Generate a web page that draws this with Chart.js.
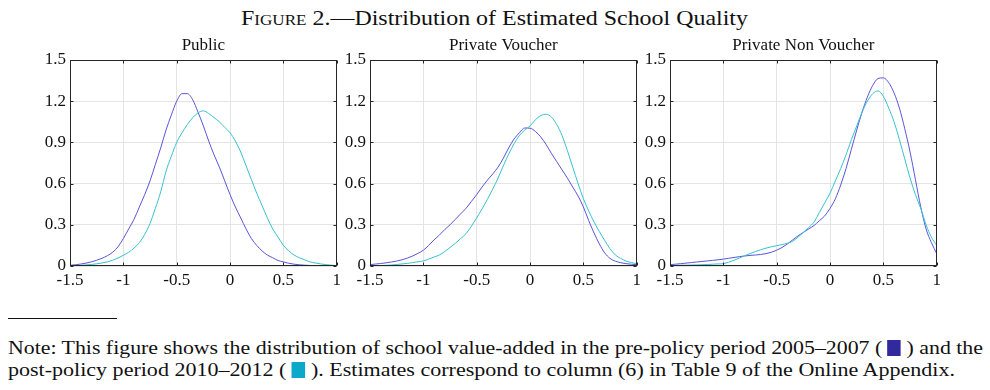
<!DOCTYPE html>
<html>
<head>
<meta charset="utf-8">
<script src="https://cdn.jsdelivr.net/npm/chart.js@4.4.0/dist/chart.umd.min.js"></script>
<style>
body{margin:0;background:#fff;width:990px;height:390px;position:relative;overflow:hidden;font-family:"Liberation Serif",serif;color:#111}
#title{position:absolute;top:4px;left:241px;font-size:21px;line-height:28px;white-space:nowrap;transform-origin:0 0}
.panel{position:absolute;top:32px}
#rule{position:absolute;left:8px;top:318px;width:109px;border-top:1px solid #111}
.note{position:absolute;left:8px;font-size:19.5px;line-height:22px;white-space:nowrap;transform-origin:0 0}
.sq{display:inline-block;width:12px;height:16px;vertical-align:-2px}
</style>
</head>
<body>
<div id="title"><span style="font-variant:small-caps">Figure</span> 2.—Distribution of Estimated School Quality</div>
<canvas id="c1" class="panel" width="345" height="260" style="left:0px"></canvas>
<canvas id="c2" class="panel" width="345" height="260" style="left:300px"></canvas>
<canvas id="c3" class="panel" width="345" height="260" style="left:600px"></canvas>
<div id="rule"></div>
<div id="note1" class="note" style="top:337px">Note: This figure shows the distribution of school value-added in the pre-policy period 2005–2007 ( <span class="sq" style="background:#33299e"></span> ) and the</div>
<div id="note2" class="note" style="top:359px">post-policy period 2010–2012 ( <span class="sq" style="background:#0aa9c9"></span> ). Estimates correspond to column (6) in Table 9 of the Online Appendix.</div>
<script>
// school quality grid (x) and tick labels
var xGrid = [-1.5,-1.45,-1.4,-1.35,-1.3,-1.25,-1.2,-1.15,-1.1,-1.05,
  -1.0,-0.95,-0.9,-0.85,-0.8,-0.75,-0.7,-0.65,-0.6,-0.55,
  -0.5,-0.45,-0.4,-0.35,-0.3,-0.25,-0.2,-0.15,-0.1,-0.05,
  0.0,0.05,0.1,0.15,0.2,0.25,0.3,0.35,0.4,0.45,
  0.5,0.55,0.6,0.65,0.7,0.75,0.8,0.85,0.9,0.95,1.0];
var xTicks = [-1.5,-1,-0.5,0,0.5,1];
var xTickLabels = ['-1.5','-1','-0.5','0','0.5','1'];
var yTicks = [0,0.3,0.6,0.9,1.2,1.5];
var yTickLabels = ['0','0.3','0.6','0.9','1.2','1.5'];
var panelTitles = ['Public','Private Voucher','Private Non Voucher'];

// densities, pre-policy 2005-2007 and post-policy 2010-2012
var publicPre = [0.005,0.009,0.014,0.021,0.03,0.042,0.056,0.075,0.10,0.14,
  0.20,0.27,0.34,0.43,0.52,0.62,0.74,0.86,0.99,1.10,
  1.20,1.255,1.255,1.21,1.12,1.02,0.91,0.81,0.72,0.62,
  0.52,0.43,0.35,0.27,0.20,0.15,0.11,0.08,0.06,0.04,
  0.03,0.02,0.013,0.009,0.006,0.004,0.002,0.001,0.001,0,0];
var publicPost = [0.001,0.003,0.005,0.008,0.011,0.016,0.022,0.03,0.042,0.058,
  0.078,0.10,0.13,0.17,0.23,0.31,0.42,0.54,0.69,0.80,
  0.90,0.97,1.03,1.08,1.115,1.13,1.11,1.08,1.05,1.01,
  0.97,0.91,0.83,0.73,0.63,0.53,0.44,0.35,0.27,0.21,
  0.15,0.11,0.08,0.06,0.045,0.03,0.022,0.015,0.01,0.006,0.003];
var voucherPre = [0.01,0.014,0.018,0.023,0.029,0.036,0.045,0.058,0.073,0.092,
  0.115,0.15,0.19,0.225,0.265,0.30,0.34,0.38,0.42,0.47,
  0.52,0.575,0.625,0.67,0.72,0.785,0.86,0.925,0.97,1.005,
  1.003,0.98,0.94,0.885,0.82,0.76,0.70,0.64,0.575,0.51,
  0.43,0.33,0.24,0.16,0.095,0.055,0.035,0.024,0.017,0.013,0.01];
var voucherPost = [0.001,0.002,0.003,0.005,0.007,0.011,0.015,0.019,0.025,0.031,
  0.037,0.05,0.065,0.08,0.105,0.135,0.165,0.2,0.235,0.29,
  0.35,0.415,0.485,0.56,0.64,0.73,0.815,0.89,0.95,0.99,
  1.02,1.065,1.095,1.105,1.085,1.03,0.95,0.84,0.72,0.60,
  0.49,0.40,0.32,0.25,0.185,0.125,0.08,0.055,0.036,0.025,0.017];
var nonVoucherPre = [0.01,0.013,0.017,0.021,0.025,0.029,0.033,0.037,0.041,0.045,
  0.05,0.056,0.062,0.068,0.073,0.077,0.08,0.084,0.09,0.10,
  0.115,0.135,0.16,0.19,0.22,0.245,0.27,0.295,0.33,0.365,
  0.42,0.49,0.59,0.71,0.85,0.99,1.12,1.23,1.315,1.365,
  1.37,1.335,1.26,1.15,1.0,0.83,0.63,0.43,0.27,0.17,0.09];
var nonVoucherPost = [0.005,0.005,0.006,0.006,0.007,0.008,0.009,0.011,0.013,0.015,
  0.017,0.028,0.042,0.058,0.075,0.09,0.105,0.118,0.13,0.14,
  0.148,0.156,0.165,0.18,0.21,0.245,0.28,0.32,0.39,0.46,
  0.53,0.62,0.71,0.81,0.92,1.02,1.12,1.2,1.255,1.275,
  1.235,1.15,1.05,0.92,0.78,0.64,0.52,0.42,0.30,0.21,0.15];

var preColor = '#5a55d8';
var postColor = '#36c2cc';
var tickFont = {family:'Liberation Serif', size:17};

function toPoints(ys){
  return xGrid.map(function(x,i){ return {x:x, y:ys[i]}; });
}

// box around the plot with inward tick marks, matlab style,
// plus the panel title centred over the plot area (not the canvas)
var framePlugin = {
  id:'frame',
  afterDatasetsDraw: function(chart, args, opts){
    var ctx = chart.ctx, a = chart.chartArea;
    var sx = chart.scales.x, sy = chart.scales.y;
    var l = Math.round(a.left)+0.5, r = Math.round(a.right)-0.5;
    var t = Math.round(a.top)+0.5, b = Math.round(a.bottom)-0.5;
    ctx.save();
    ctx.strokeStyle = '#262626';
    ctx.lineWidth = 1;
    ctx.beginPath();
    xTicks.forEach(function(v){
      var p = Math.round(sx.getPixelForValue(v))+0.5;
      ctx.moveTo(p,b); ctx.lineTo(p,b-3);
      ctx.moveTo(p,t); ctx.lineTo(p,t+3);
    });
    yTicks.forEach(function(v){
      var p = Math.round(sy.getPixelForValue(v))+0.5;
      ctx.moveTo(l,p); ctx.lineTo(l+3,p);
      ctx.moveTo(r,p); ctx.lineTo(r-3,p);
    });
    ctx.stroke();
    ctx.strokeRect(l,t,r-l,b-t);

    ctx.fillStyle = '#111';
    ctx.font = '17px "Liberation Serif"';
    ctx.textAlign = 'center';
    ctx.textBaseline = 'middle';
    ctx.fillText(opts.text, (a.left + a.right) / 2, a.top - 14);
    ctx.restore();
  }
};

function drawPanel(id, title, pre, post){
  new Chart(document.getElementById(id), {
    type:'line',
    data:{
      datasets:[
        {data:toPoints(post), borderColor:postColor, borderWidth:1, pointRadius:0, cubicInterpolationMode:'monotone', fill:false},
        {data:toPoints(pre), borderColor:preColor, borderWidth:1, pointRadius:0, cubicInterpolationMode:'monotone', fill:false}
      ]
    },
    options:{
      responsive:false,
      animation:false,
      events:[],
      layout:{padding:{left:0,right:6,top:28,bottom:0}},
      plugins:{
        legend:{display:false},
        tooltip:{enabled:false},
        title:{display:false},
        frame:{text:title}
      },
      scales:{
        x:{
          type:'linear', min:-1.5, max:1,
          afterBuildTicks:function(s){ s.ticks = xTicks.map(function(v){ return {value:v}; }); },
          afterFit:function(s){ s.height = 26; },
          ticks:{color:'#111', font:tickFont, padding:4, maxRotation:0,
            callback:function(v){ return xTickLabels[xTicks.indexOf(v)]; }},
          grid:{color:'#e4e4e4', drawTicks:false},
          border:{display:false}
        },
        y:{
          min:0, max:1.5,
          afterBuildTicks:function(s){ s.ticks = yTicks.map(function(v){ return {value:v}; }); },
          afterFit:function(s){ s.width = 70; },
          ticks:{color:'#111', font:tickFont, padding:4,
            callback:function(v){ return yTickLabels[yTicks.indexOf(v)]; }},
          grid:{color:'#e4e4e4', drawTicks:false},
          border:{display:false}
        }
      }
    },
    plugins:[framePlugin]
  });
}

drawPanel('c1', panelTitles[0], publicPre, publicPost);
drawPanel('c2', panelTitles[1], voucherPre, voucherPost);
drawPanel('c3', panelTitles[2], nonVoucherPre, nonVoucherPost);

// stretch text lines to the widths in the original typeset figure
function fitWidth(id, target){
  var el = document.getElementById(id);
  var w = el.getBoundingClientRect().width;
  el.style.transform = 'scaleX(' + (target / w) + ')';
}
fitWidth('title', 507);
fitWidth('note1', 975);
fitWidth('note2', 947);
</script>
</body>
</html>
